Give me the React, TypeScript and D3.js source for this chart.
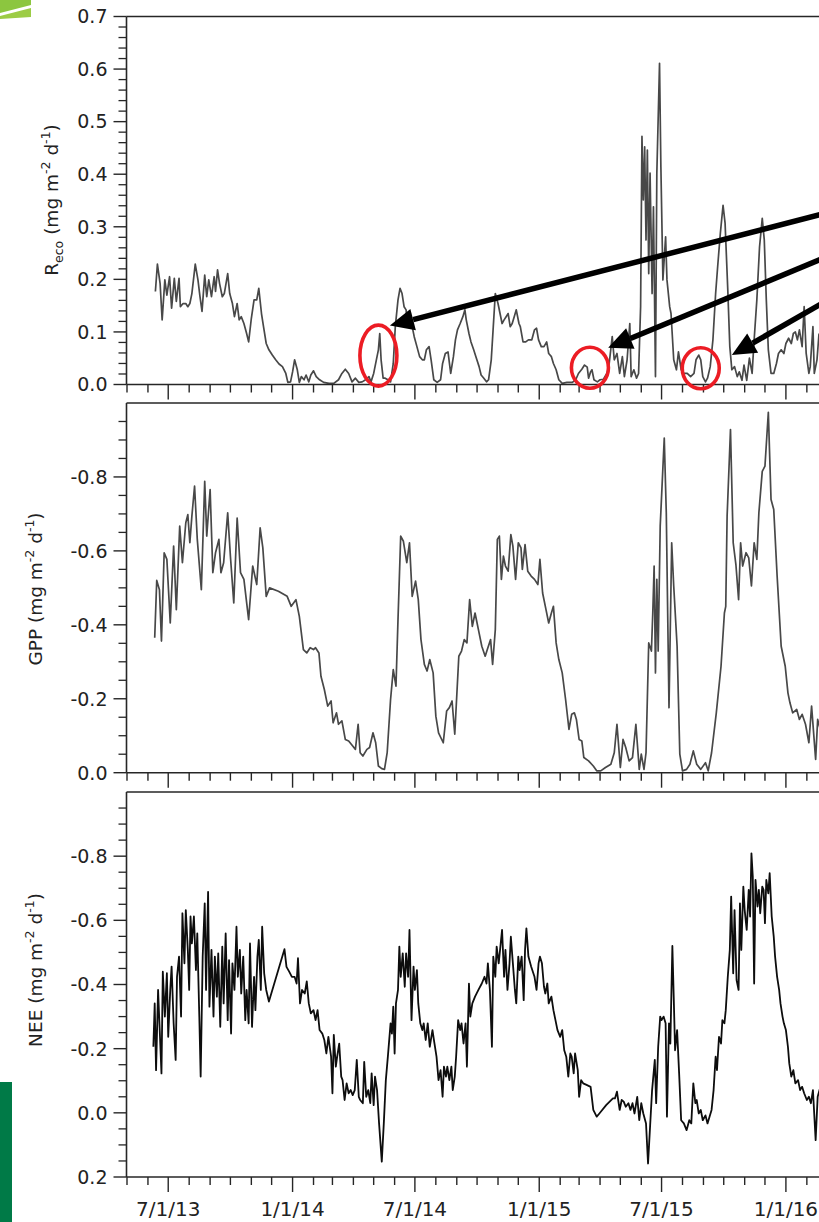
import React from "react";
import * as d3 from "d3";

// Daily fluxes from the site record. Each series is [day since 1 May 2013, value].
const RECORD_START = new Date(2013, 4, 1);
const AXIS_END = new Date(2016, 2, 1);

const reco: [number, number][] = [
  [42,0.177],[45,0.229],[49,0.192],[52,0.123],[56,0.199],[59,0.17],[63,0.205],[66,0.145],[70,0.202],[73,0.158],
  [77,0.202],[79,0.148],[83,0.154],[87,0.154],[90,0.148],[93,0.154],[96,0.173],[101,0.229],[105,0.199],[108,0.167],
  [111,0.139],[115,0.208],[118,0.167],[121,0.199],[125,0.167],[129,0.205],[131,0.177],[134,0.218],[137,0.192],[141,0.167],
  [144,0.173],[149,0.211],[152,0.173],[156,0.154],[159,0.129],[163,0.154],[166,0.123],[169,0.129],[173,0.116],[177,0.097],
  [180,0.081],[184,0.126],[188,0.161],[192,0.161],[195,0.183],[199,0.135],[202,0.11],[206,0.078],[210,0.066],[215,0.056],
  [220,0.047],[225,0.039],[230,0.034],[235,0.021],[238,0.004],[242,0.005],[245,0.024],[248,0.047],[252,0.028],[255,0.004],
  [258,0.015],[262,0.009],[265,0.018],[269,0.005],[272,0.018],[276,0.026],[280,0.015],[285,0.009],[291,0.004],[299,0.002],
  [306,0.002],[313,0.009],[318,0.021],[323,0.029],[328,0.021],[333,0.005],[338,0.012],[343,0.004],[348,0.005],[353,0.009],
  [358,0.015],[361,0.005],[365,0.021],[369,0.047],[372,0.066],[374,0.097],[376,0.047],[379,0.012],[382,0.012],[386,0.009],
  [390,0.005],[394,0.04],[397,0.11],[401,0.161],[404,0.183],[407,0.173],[410,0.148],[413,0.142],[415,0.11],[418,0.123],
  [422,0.11],[425,0.091],[429,0.072],[433,0.053],[437,0.047],[440,0.047],[443,0.066],[447,0.072],[450,0.047],[454,0.009],
  [459,0.004],[464,0.009],[467,0.04],[471,0.059],[475,0.062],[479,0.021],[483,0.053],[486,0.085],[489,0.104],[493,0.116],
  [497,0.129],[500,0.142],[502,0.123],[506,0.097],[509,0.081],[513,0.066],[517,0.05],[521,0.034],[524,0.018],[528,0.012],
  [532,0.005],[535,0.009],[539,0.047],[542,0.11],[545,0.173],[549,0.154],[552,0.135],[555,0.116],[558,0.123],[561,0.129],
  [564,0.135],[567,0.11],[570,0.116],[573,0.129],[576,0.142],[580,0.116],[582,0.11],[586,0.081],[590,0.081],[594,0.085],
  [599,0.085],[603,0.104],[606,0.107],[609,0.085],[613,0.072],[617,0.072],[621,0.081],[624,0.059],[628,0.053],[631,0.04],
  [635,0.028],[639,0.009],[644,0.002],[651,0.004],[659,0.004],[664,0.009],[668,0.021],[673,0.029],[677,0.037],[681,0.033],
  [683,0.012],[686,0.024],[688,0.028],[691,0.009],[696,0.005],[700,0.009],[705,0.01],[710,0.021],[713,0.034],[718,0.091],
  [721,0.047],[725,0.059],[729,0.021],[733,0.053],[736,0.015],[740,0.047],[744,0.116],[746,0.015],[750,0.028],[754,0.012],
  [757,0.021],[760,0.148],[762,0.472],[764,0.351],[766,0.452],[768,0.275],[770,0.446],[772,0.211],[774,0.402],[777,0.173],
  [779,0.338],[782,0.015],[784,0.402],[788,0.611],[790,0.414],[793,0.199],[797,0.281],[799,0.199],[803,0.148],[805,0.135],
  [809,0.047],[813,0.028],[816,0.062],[820,0.028],[824,0.021],[829,0.021],[834,0.015],[839,0.021],[842,0.047],[846,0.056],
  [849,0.047],[852,0.015],[856,0.005],[859,0.012],[863,0.034],[867,0.085],[871,0.173],[874,0.224],[878,0.288],[882,0.341],
  [885,0.307],[889,0.18],[892,0.072],[895,0.028],[899,0.034],[903,0.015],[906,0.024],[910,0.008],[913,0.037],[917,0.008],
  [921,0.05],[925,0.021],[928,0.085],[932,0.161],[936,0.262],[940,0.316],[943,0.275],[946,0.161],[949,0.066],[953,0.021],
  [957,0.021],[961,0.04],[964,0.059],[968,0.066],[972,0.059],[975,0.078],[979,0.088],[983,0.078],[986,0.097],[989,0.1],
  [992,0.085],[995,0.104],[999,0.072],[1002,0.148],[1005,0.059],[1009,0.021],[1011,0.034],[1015,0.11],[1017,0.021],[1021,0.047],
  [1024,0.097],
];

const gpp: [number, number][] = [
  [41,-0.365],[44,-0.52],[48,-0.495],[51,-0.356],[55,-0.595],[59,-0.577],[64,-0.405],[69,-0.613],[73,-0.441],[78,-0.667],
  [82,-0.568],[87,-0.676],[90,-0.698],[93,-0.622],[96,-0.694],[100,-0.775],[104,-0.631],[110,-0.495],[115,-0.788],[118,-0.64],
  [123,-0.766],[127,-0.541],[131,-0.595],[136,-0.631],[139,-0.541],[143,-0.568],[149,-0.703],[153,-0.586],[158,-0.459],[163,-0.689],
  [168,-0.541],[173,-0.523],[180,-0.414],[186,-0.559],[192,-0.509],[197,-0.662],[201,-0.608],[206,-0.477],[211,-0.5],[224,-0.491],
  [237,-0.477],[243,-0.45],[250,-0.468],[255,-0.423],[261,-0.333],[266,-0.324],[271,-0.338],[276,-0.333],[279,-0.338],[284,-0.324],
  [287,-0.261],[292,-0.225],[297,-0.18],[302,-0.194],[305,-0.135],[310,-0.162],[313,-0.131],[318,-0.14],[323,-0.09],[328,-0.086],
  [334,-0.072],[338,-0.063],[342,-0.131],[345,-0.054],[349,-0.045],[355,-0.063],[359,-0.068],[364,-0.108],[368,-0.081],[372,-0.018],
  [377,-0.011],[381,-0.009],[385,-0.054],[390,-0.198],[394,-0.279],[398,-0.234],[401,-0.414],[405,-0.64],[409,-0.626],[414,-0.568],
  [418,-0.622],[422,-0.477],[427,-0.518],[431,-0.468],[435,-0.36],[440,-0.293],[444,-0.275],[448,-0.306],[453,-0.27],[457,-0.153],
  [461,-0.108],[468,-0.081],[473,-0.167],[477,-0.176],[481,-0.194],[485,-0.104],[491,-0.315],[495,-0.329],[499,-0.36],[503,-0.351],
  [507,-0.468],[511,-0.396],[515,-0.432],[520,-0.387],[525,-0.342],[530,-0.315],[534,-0.338],[538,-0.36],[541,-0.293],[545,-0.387],
  [548,-0.631],[551,-0.64],[554,-0.523],[557,-0.586],[560,-0.559],[564,-0.545],[568,-0.644],[571,-0.613],[575,-0.523],[579,-0.622],
  [583,-0.608],[585,-0.55],[589,-0.617],[593,-0.545],[598,-0.532],[603,-0.523],[608,-0.509],[611,-0.577],[615,-0.486],[620,-0.441],
  [624,-0.405],[628,-0.432],[631,-0.45],[635,-0.351],[639,-0.306],[644,-0.27],[649,-0.198],[654,-0.117],[658,-0.158],[662,-0.162],
  [665,-0.144],[669,-0.09],[673,-0.086],[676,-0.041],[683,-0.032],[690,-0.018],[695,-0.005],[701,-0.005],[708,-0.014],[716,-0.023],
  [721,-0.054],[725,-0.131],[730,-0.014],[734,-0.09],[738,-0.068],[743,-0.032],[748,-0.041],[753,-0.131],[758,-0.009],[761,-0.05],
  [765,-0.009],[768,-0.054],[772,-0.351],[776,-0.329],[778,-0.432],[780,-0.559],[782,-0.27],[784,-0.523],[786,-0.329],[789,-0.667],
  [795,-0.905],[798,-0.703],[802,-0.176],[806,-0.622],[809,-0.505],[814,-0.342],[818,-0.05],[822,-0.005],[828,-0.009],[833,-0.023],
  [838,-0.059],[843,-0.023],[849,-0.009],[856,-0.027],[860,-0.005],[865,-0.054],[872,-0.162],[879,-0.288],[884,-0.432],[886,-0.45],
  [888,-0.694],[893,-0.928],[897,-0.622],[901,-0.563],[905,-0.468],[908,-0.622],[911,-0.559],[916,-0.595],[920,-0.581],[924,-0.505],
  [928,-0.622],[932,-0.577],[935,-0.703],[940,-0.815],[944,-0.829],[949,-0.975],[953,-0.739],[957,-0.712],[962,-0.532],[968,-0.342],
  [974,-0.288],[978,-0.216],[981,-0.189],[985,-0.162],[991,-0.171],[995,-0.144],[999,-0.158],[1004,-0.131],[1009,-0.081],[1013,-0.18],
  [1019,-0.036],[1022,-0.144],[1026,-0.117],
];

const nee: [number, number][] = [
  [39,-0.206],[41,-0.341],[43,-0.133],[46,-0.383],[48,-0.279],[51,-0.123],[53,-0.44],[56,-0.3],[59,-0.435],[61,-0.237],
  [64,-0.383],[66,-0.456],[69,-0.279],[72,-0.165],[74,-0.424],[77,-0.487],[80,-0.3],[82,-0.622],[85,-0.466],[87,-0.632],
  [90,-0.508],[92,-0.383],[94,-0.612],[96,-0.528],[99,-0.612],[102,-0.445],[104,-0.559],[107,-0.3],[109,-0.113],[112,-0.487],
  [115,-0.653],[117,-0.383],[120,-0.689],[122,-0.331],[125,-0.508],[128,-0.3],[130,-0.487],[133,-0.362],[135,-0.497],[138,-0.268],
  [141,-0.518],[143,-0.341],[146,-0.559],[149,-0.289],[151,-0.476],[154,-0.247],[156,-0.466],[159,-0.383],[162,-0.58],[164,-0.424],
  [167,-0.508],[169,-0.372],[172,-0.487],[175,-0.289],[177,-0.383],[180,-0.279],[182,-0.528],[185,-0.268],[188,-0.424],[190,-0.32],
  [193,-0.487],[195,-0.539],[198,-0.383],[200,-0.58],[203,-0.435],[206,-0.383],[210,-0.347],[233,-0.51],[236,-0.455],[240,-0.44],
  [244,-0.424],[248,-0.424],[251,-0.403],[253,-0.482],[256,-0.341],[259,-0.383],[263,-0.372],[266,-0.41],[269,-0.341],[272,-0.31],
  [276,-0.32],[279,-0.289],[282,-0.32],[285,-0.258],[289,-0.247],[292,-0.227],[295,-0.185],[298,-0.237],[302,-0.175],[304,-0.061],
  [306,-0.243],[309,-0.144],[311,-0.175],[314,-0.216],[317,-0.113],[319,-0.102],[322,-0.04],[325,-0.092],[328,-0.061],[331,-0.071],
  [334,-0.055],[337,-0.071],[340,-0.165],[343,-0.05],[345,-0.04],[349,-0.03],[351,-0.159],[354,-0.05],[357,-0.071],[360,-0.03],
  [362,-0.123],[365,-0.024],[367,-0.113],[370,-0.071],[373,0.033],[377,0.152],[380,0.033],[383,-0.102],[386,-0.175],[390,-0.279],
  [392,-0.247],[394,-0.331],[396,-0.185],[398,-0.341],[401,-0.383],[403,-0.518],[405,-0.424],[408,-0.497],[411,-0.393],[413,-0.497],
  [416,-0.424],[418,-0.57],[421,-0.289],[424,-0.456],[426,-0.383],[429,-0.445],[431,-0.341],[434,-0.279],[437,-0.258],[439,-0.279],
  [442,-0.227],[445,-0.279],[448,-0.206],[452,-0.258],[455,-0.216],[458,-0.175],[461,-0.102],[464,-0.133],[467,-0.05],[469,-0.144],
  [472,-0.113],[474,-0.144],[477,-0.102],[480,-0.144],[482,-0.071],[485,-0.113],[487,-0.175],[490,-0.289],[493,-0.258],[495,-0.279],
  [498,-0.216],[501,-0.279],[503,-0.144],[506,-0.403],[508,-0.3],[511,-0.341],[515,-0.362],[520,-0.383],[525,-0.403],[529,-0.424],
  [532,-0.403],[534,-0.466],[537,-0.383],[540,-0.206],[542,-0.487],[545,-0.424],[547,-0.518],[550,-0.466],[553,-0.528],[555,-0.57],
  [558,-0.424],[560,-0.508],[563,-0.383],[566,-0.466],[568,-0.549],[571,-0.466],[574,-0.383],[576,-0.341],[579,-0.487],[581,-0.445],
  [584,-0.487],[587,-0.351],[589,-0.508],[591,-0.575],[594,-0.487],[598,-0.456],[603,-0.424],[606,-0.383],[609,-0.466],[611,-0.487],
  [614,-0.466],[617,-0.393],[619,-0.372],[622,-0.403],[624,-0.341],[628,-0.362],[631,-0.32],[634,-0.289],[637,-0.258],[641,-0.237],
  [644,-0.258],[647,-0.195],[650,-0.175],[653,-0.113],[656,-0.185],[658,-0.175],[661,-0.123],[663,-0.185],[667,-0.133],[669,-0.05],
  [672,-0.102],[675,-0.092],[680,-0.087],[686,-0.081],[690,-0.009],[695,0.012],[699,0.002],[709,-0.024],[719,-0.045],[722,-0.045],
  [725,-0.066],[729,-0.009],[732,-0.04],[735,-0.035],[738,-0.019],[742,-0.03],[745,-0.009],[748,-0.03],[751,0.002],[755,-0.05],
  [758,0.023],[761,-0.03],[764,0.002],[768,0.033],[771,0.158],[774,0.043],[777,-0.071],[781,-0.165],[783,-0.03],[786,-0.206],
  [789,-0.3],[791,-0.289],[794,-0.3],[797,-0.279],[799,0.012],[802,-0.279],[804,-0.216],[807,-0.52],[809,-0.362],[811,-0.195],
  [814,-0.258],[817,-0.123],[820,0.023],[824,0.033],[828,0.054],[832,0.023],[835,0.033],[838,-0.092],[841,-0.03],[843,-0.04],
  [846,0.002],[849,-0.009],[852,0.023],[856,0.008],[859,0.033],[862,0.012],[865,-0.009],[868,-0.071],[871,-0.175],[873,-0.133],
  [876,-0.237],[879,-0.216],[881,-0.289],[884,-0.279],[886,-0.32],[889,-0.424],[892,-0.508],[894,-0.674],[897,-0.435],[899,-0.632],
  [902,-0.414],[905,-0.383],[907,-0.653],[909,-0.508],[912,-0.705],[914,-0.632],[917,-0.57],[920,-0.695],[922,-0.612],[924,-0.809],
  [926,-0.736],[928,-0.403],[930,-0.726],[933,-0.643],[935,-0.695],[937,-0.622],[940,-0.705],[942,-0.695],[944,-0.591],[946,-0.726],
  [949,-0.684],[951,-0.747],[954,-0.612],[957,-0.549],[959,-0.487],[962,-0.424],[965,-0.383],[967,-0.341],[970,-0.3],[972,-0.279],
  [975,-0.258],[978,-0.206],[980,-0.154],[983,-0.113],[986,-0.133],[989,-0.092],[993,-0.102],[996,-0.071],[999,-0.081],[1002,-0.061],
  [1006,-0.04],[1009,-0.05],[1012,-0.03],[1015,-0.071],[1019,0.085],[1022,-0.05],[1026,-0.081],
];

// Axis tick values
const recoTicks = [0, 0.1, 0.2, 0.3, 0.4, 0.5, 0.6, 0.7];
const gppTicks = [0, -0.2, -0.4, -0.6, -0.8];
const neeTicks = [0.2, 0, -0.2, -0.4, -0.6, -0.8];
const dateLabels = ["7/1/13", "1/1/14", "7/1/14", "1/1/15", "7/1/15", "1/1/16"];

// Low-Reco episodes marked on the top panel: [day, value]
const marked: [number, number][] = [[372, 0.055], [685, 0.032], [849, 0.031]];
// Where the pointers land: [day, value]
const pointed: [number, number][] = [[389, 0.112], [712, 0.07], [895, 0.056]];

const parseLabel = d3.timeParse("%m/%d/%y");
const dayDate = (d: number) => d3.timeDay.offset(RECORD_START, d);

const FONT = "'DejaVu Sans', Verdana, sans-serif";
const AXIS = "#262626";

type Panel = {
  key: string;
  data: [number, number][];
  top: number;
  bottom: number;
  domain: [number, number];
  majors: number[];
  minorStep: number;
  color: string;
  width: number;
  main: string;
  sub?: string;
  titleX: number;
  titleY: number;
  dates: boolean;
};

function AxisTitle({ x, y, main, sub }: { x: number; y: number; main: string; sub?: string }) {
  return (
    <text
      transform={`translate(${x},${y}) rotate(-90)`}
      textAnchor="middle"
      fontSize={18.5}
      fontFamily={FONT}
      fill="#222"
    >
      {main}
      {sub ? (
        <tspan fontSize={12.5} dy={5}>
          {sub}
        </tspan>
      ) : null}
      <tspan dy={sub ? -5 : 0}>{" (mg m"}</tspan>
      <tspan fontSize={12.5} dy={-8}>
        {"-2"}
      </tspan>
      <tspan dy={8}>{" d"}</tspan>
      <tspan fontSize={12.5} dy={-8}>
        {"-1"}
      </tspan>
      <tspan dy={8}>{")"}</tspan>
    </text>
  );
}

export default function App() {
  const W = 819;
  const H = 1222;
  const left = 126.5;
  const pxPerDay = 0.6758;
  const x = d3
    .scaleTime()
    .domain([RECORD_START, AXIS_END])
    .range([127, 127 + d3.timeDay.count(RECORD_START, AXIS_END) * pxPerDay]);

  const months = d3.timeMonth.range(RECORD_START, d3.timeDay.offset(AXIS_END, 1));
  const majorDates = dateLabels.map((s) => parseLabel(s) as Date);
  const isMajor = (d: Date) => d.getMonth() === 0 || d.getMonth() === 6;

  const panels: Panel[] = [
    {
      key: "reco", data: reco, top: 16.5, bottom: 384.5, domain: [0, 0.7], majors: recoTicks,
      minorStep: 0.02, color: "#484848", width: 1.7, main: "R", sub: "eco", titleX: 58, titleY: 200, dates: false,
    },
    {
      key: "gpp", data: gpp, top: 403, bottom: 772.7, domain: [0, -1], majors: gppTicks,
      minorStep: 0.05, color: "#484848", width: 1.7, main: "GPP", titleX: 42, titleY: 589, dates: false,
    },
    {
      key: "nee", data: nee, top: 792, bottom: 1177, domain: [0.2, -1], majors: neeTicks,
      minorStep: 0.05, color: "#0d0d0d", width: 1.8, main: "NEE", titleX: 42, titleY: 970, dates: true,
    },
  ];

  const recoY = d3.scaleLinear().domain(panels[0].domain).range([panels[0].bottom, panels[0].top]);

  return (
    <svg
      width={W}
      height={H}
      viewBox={`0 0 ${W} ${H}`}
      style={{ position: "absolute", left: 0, top: 0, background: "#fff" }}
    >
      <rect x={0} y={0} width={W} height={H} fill="#fff" />

      {/* page trim */}
      <polygon points="0,0 31,0 31,5 0,13" fill="#8cc63f" />
      <polygon points="0,16 31,8 31,17 0,19" fill="#9ccc45" />
      <rect x={0} y={1082} width={12} height={H - 1082} fill="#007a47" />

      {panels.map((p) => {
        const y = d3.scaleLinear().domain(p.domain).range([p.bottom, p.top]);
        const lo = Math.min(p.domain[0], p.domain[1]);
        const hi = Math.max(p.domain[0], p.domain[1]);
        const n0 = Math.round(lo / p.minorStep);
        const n1 = Math.round(hi / p.minorStep);
        const minors = d3
          .range(n0, n1 + 1)
          .map((i) => i * p.minorStep)
          .filter((v) => !p.majors.some((m) => Math.abs(m - v) < 1e-6))
          .filter((v) => Math.abs(y(v) - p.top) > 2);
        const line = d3
          .line<[number, number]>()
          .x((d) => x(dayDate(d[0])))
          .y((d) => y(d[1]));
        return (
          <g key={p.key}>
            <path d={line(p.data) || ""} fill="none" stroke={p.color} strokeWidth={p.width} strokeLinejoin="round" />

            {/* frame */}
            <line x1={left} x2={W + 10} y1={p.top} y2={p.top} stroke={AXIS} strokeWidth={1.6} />
            <line x1={left} x2={W + 10} y1={p.bottom} y2={p.bottom} stroke={AXIS} strokeWidth={1.6} />
            <line x1={left} x2={left} y1={p.top} y2={p.bottom} stroke={AXIS} strokeWidth={1.6} />

            {/* y ticks */}
            {p.majors.map((v) => (
              <g key={`M${v}`}>
                <line x1={left - 13} x2={left} y1={y(v)} y2={y(v)} stroke={AXIS} strokeWidth={1.4} />
                <text
                  x={left - 19}
                  y={y(v)}
                  dy="0.36em"
                  textAnchor="end"
                  fontSize={19}
                  fontFamily={FONT}
                  fill="#222"
                >
                  {v.toFixed(1)}
                </text>
              </g>
            ))}
            {minors.map((v) => (
              <line key={`m${v}`} x1={left - 8} x2={left} y1={y(v)} y2={y(v)} stroke={AXIS} strokeWidth={1.3} />
            ))}

            {/* monthly date ticks */}
            {months.map((d) => (
              <line
                key={`t${+d}`}
                x1={x(d)}
                x2={x(d)}
                y1={p.bottom}
                y2={p.bottom + (isMajor(d) ? 15 : 8)}
                stroke={AXIS}
                strokeWidth={1.4}
              />
            ))}
            {p.dates
              ? majorDates.map((d, i) => (
                  <text
                    key={`d${i}`}
                    x={x(d)}
                    y={p.bottom + 39}
                    textAnchor="middle"
                    fontSize={20}
                    fontFamily={FONT}
                    fill="#222"
                  >
                    {dateLabels[i]}
                  </text>
                ))
              : null}

            <AxisTitle x={p.titleX} y={p.titleY} main={p.main} sub={p.sub} />
          </g>
        );
      })}

      {/* highlighted Reco episodes */}
      {marked.map((m, i) => (
        <ellipse
          key={`e${i}`}
          cx={x(dayDate(m[0]))}
          cy={recoY(m[1])}
          rx={18.5}
          ry={i === 0 ? 30.5 : 20.5}
          fill="none"
          stroke="#ec1c24"
          strokeWidth={3.6}
        />
      ))}

      {/* pointers coming in from the right margin */}
      {pointed.map((pt, i) => {
        const tx = x(dayDate(pt[0]));
        const ty = recoY(pt[1]);
        const slopes = [-0.258, -0.4156, -0.573];
        const sx = 880;
        const sy = ty + (sx - tx) * slopes[i];
        const ang = Math.atan2(sy - ty, sx - tx);
        const headLen = 24;
        const half = 11;
        const bx = tx + Math.cos(ang) * headLen;
        const by = ty + Math.sin(ang) * headLen;
        const nx = -Math.sin(ang) * half;
        const ny = Math.cos(ang) * half;
        return (
          <g key={`a${i}`}>
            <line x1={sx} y1={sy} x2={bx} y2={by} stroke="#000" strokeWidth={5.5} />
            <polygon points={`${tx},${ty} ${bx + nx},${by + ny} ${bx - nx},${by - ny}`} fill="#000" />
          </g>
        );
      })}
    </svg>
  );
}
